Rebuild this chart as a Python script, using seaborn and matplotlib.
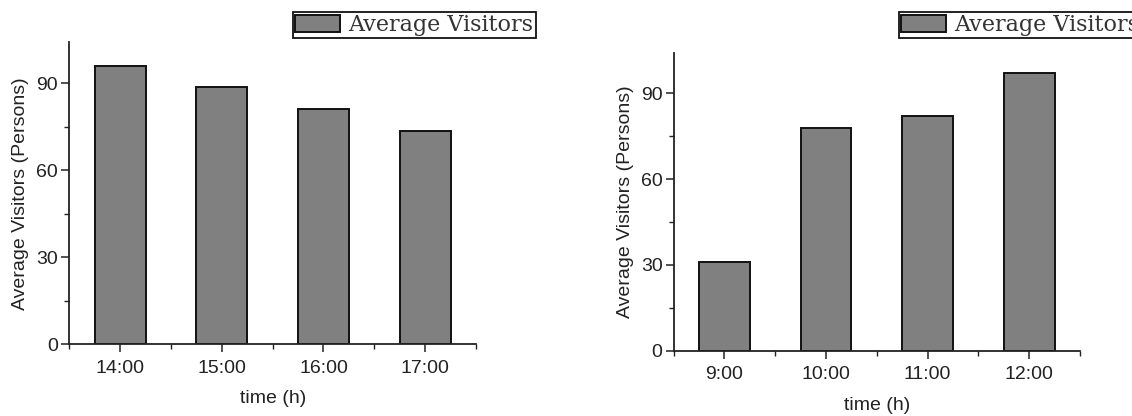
import seaborn as sns
import pandas as pd
import matplotlib.pyplot as plt
from matplotlib.ticker import MultipleLocator, FixedLocator

## chart data ##
afternoon_hours = ['14:00', '15:00', '16:00', '17:00']
afternoon_visitors = [96, 88.5, 81, 73.5]
morning_hours = ['9:00', '10:00', '11:00', '12:00']
morning_visitors = [31, 78, 82, 97]
y_ticks = [0, 30, 60, 90]
series_label = 'Average Visitors'

sns.set_style('ticks')
plt.rcParams['font.family'] = ['Liberation Sans', 'DejaVu Sans']
plt.rcParams['font.size'] = 14

fig = plt.figure(figsize=(11.32, 4.16), dpi=100)

# axes placed in figure fractions (left, bottom, width, height)
ax_left = fig.add_axes([0.0612, 0.1724, 0.3593, 0.7257])
ax_right = fig.add_axes([0.5951, 0.1570, 0.3589, 0.7149])


def draw_panel(ax, hours, visitors, legend_anchor):
    df = pd.DataFrame({'time': hours, 'visitors': visitors})
    sns.barplot(data=df, x='time', y='visitors', ax=ax, color='#808080',
                saturation=1, width=0.5, edgecolor='#111111', linewidth=1.4,
                label=series_label)
    ax.set_xlim(-0.5, len(hours) - 0.5)
    ax.set_ylim(0, 104)
    ax.set_yticks(y_ticks)
    ax.yaxis.set_minor_locator(MultipleLocator(15))
    ax.xaxis.set_minor_locator(FixedLocator([i - 0.5 for i in range(len(hours) + 1)]))
    ax.tick_params(axis='both', which='major', direction='out', length=6,
                   width=1.1, color='#222222', labelsize=14, labelcolor='#222222', pad=2)
    ax.tick_params(axis='x', which='major', pad=5)
    ax.tick_params(axis='both', which='minor', direction='out', length=3.5,
                   width=1.0, color='#222222')
    ax.set_xlabel('time (h)', fontsize=14, color='#222222', labelpad=10)
    ax.set_ylabel('Average Visitors (Persons)', fontsize=14, color='#222222', labelpad=5)
    sns.despine(ax=ax)
    for side in ['left', 'bottom']:
        ax.spines[side].set_linewidth(1.3)
        ax.spines[side].set_color('#222222')
    ax.set_facecolor('white')

    leg = ax.legend(loc='upper left', bbox_to_anchor=legend_anchor,
                    bbox_transform=fig.transFigure, borderaxespad=0,
                    prop={'family': 'DejaVu Serif', 'size': 16},
                    handlelength=2.0, handleheight=0.8, handletextpad=0.4,
                    borderpad=0.1, fancybox=False, framealpha=1,
                    edgecolor='#111111')
    leg.get_frame().set_linewidth(1.3)
    for txt in leg.get_texts():
        txt.set_color('#333333')


draw_panel(ax_left, afternoon_hours, afternoon_visitors, (293 / 1132, 1 - 12 / 416))
draw_panel(ax_right, morning_hours, morning_visitors, (899 / 1132, 1 - 12 / 416))

fig.savefig('out.png', dpi=100, facecolor='white')
